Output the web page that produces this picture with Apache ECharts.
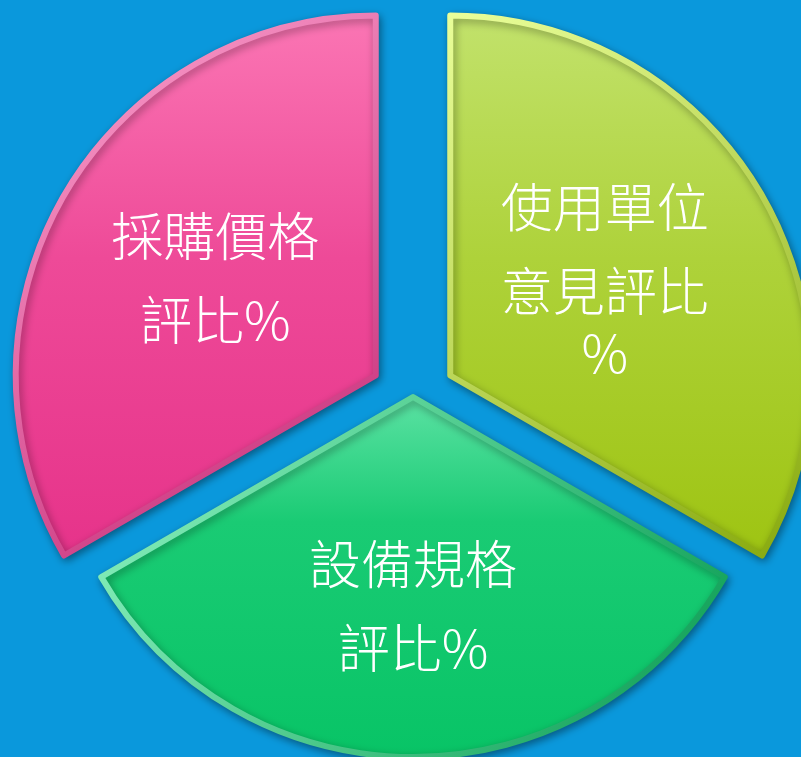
<!DOCTYPE html>
<html>
<head>
<meta charset="utf-8">
<script src="https://cdn.jsdelivr.net/npm/echarts@6/dist/echarts.min.js"></script>
<style>
html,body{margin:0;padding:0;background:#0a98dc;}
#chart{width:801px;height:757px;}
</style>
</head>
<body>
<div id="chart"></div>
<script>
// Data (clockwise from 12 o'clock)
var categories = ['使用單位\n意見評比\n%', '設備規格\n評比%', '採購價格\n評比%'];
var values = [1, 1, 1];
var selectedFlags = [true, false, true];

// Styles
var fillStops = [
  [['#c2e26c', 0], ['#aed23a', 0.45], ['#9ec412', 1]],
  [['#5ce2a4', 0], ['#1acb74', 0.35], ['#08c466', 1]],
  [['#fb76b4', 0], ['#ee4a98', 0.45], ['#e6338a', 1]]
];
var edgeLight = ['#eaff9a', '#8ff5c4', '#ffa6d2'];
var edgeDark = ['#86a80c', '#079a50', '#c22472'];
var labelDx = [-4, 0, -2];
var labelDy = [-15, 26, -6];
var fontStack = '"Noto Sans CJK TC Light", "Noto Sans CJK TC", "Noto Sans", sans-serif';

function linGrad(stops, x2, y2) {
  return new echarts.graphic.LinearGradient(0, 0, x2, y2, stops.map(function (s) {
    return {offset: s[1], color: s[0]};
  }));
}

var data = categories.map(function (name, i) {
  return {
    name: name,
    value: values[i],
    selected: selectedFlags[i],
    itemStyle: {
      color: linGrad(fillStops[i], 0, 1),
      borderColor: linGrad([[edgeLight[i], 0], [edgeDark[i], 1]], 1, 1),
      borderWidth: 6
    }
  };
});

var chart = echarts.init(document.getElementById('chart'));
chart.setOption({
  backgroundColor: '#0a98dc',
  animation: false,
  series: [{
    type: 'pie',
    center: [413, 397],
    radius: [0, 360],
    startAngle: 90,
    clockwise: true,
    selectedMode: 'multiple',
    selectedOffset: 43,
    emphasis: {disabled: true},
    select: {itemStyle: {}},
    itemStyle: {
      shadowBlur: 8,
      shadowColor: 'rgba(0,0,0,0.35)',
      shadowOffsetX: 2,
      shadowOffsetY: 3
    },
    label: {
      show: true,
      position: 'inside',
      color: '#ffffff',
      fontFamily: fontStack,
      fontWeight: 300,
      fontSize: 52,
      lineHeight: 84,
      formatter: function (p) {
        return p.name.split('\n').map(function (line) {
          return line === '%' ? '{p|%}' : '{a|' + line + '}';
        }).join('\n');
      },
      rich: {
        a: {color: '#ffffff', fontSize: 52, fontWeight: 300, lineHeight: 84, fontFamily: fontStack},
        p: {color: '#ffffff', fontSize: 52, fontWeight: 300, lineHeight: 40, fontFamily: fontStack}
      }
    },
    labelLine: {show: false},
    labelLayout: function (params) {
      return {dx: labelDx[params.dataIndex], dy: labelDy[params.dataIndex]};
    },
    data: data
  }]
});
</script>
</body>
</html>
